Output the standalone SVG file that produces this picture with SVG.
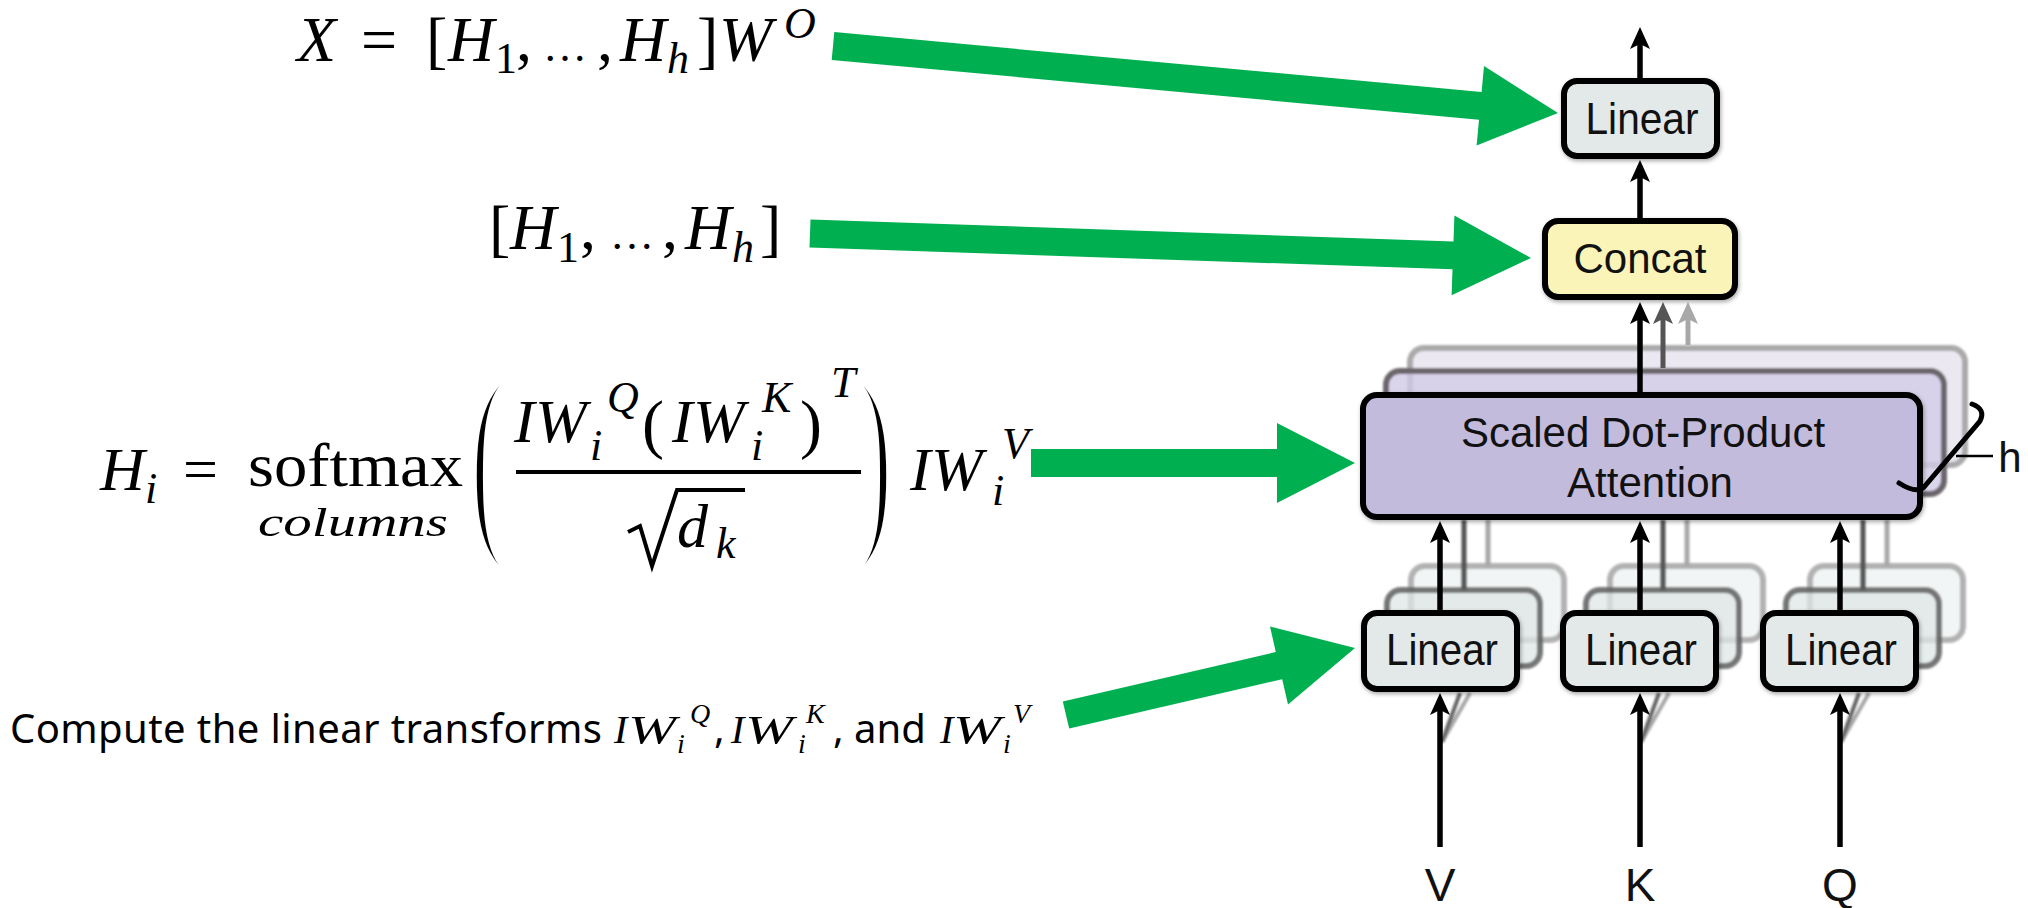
<svg xmlns="http://www.w3.org/2000/svg" width="2028" height="908" viewBox="0 0 2028 908">
<style>
.box{stroke:#000;stroke-width:6}
.lin{fill:#e3e9e9}
.concat{fill:#faf4b8}
.sdpa{fill:#c2bbdc}
.back1{fill:#dfe5e5;fill-opacity:0.75;stroke:#5f5f5f;stroke-opacity:0.85;stroke-width:6}
.back2{fill:#eef1f1;fill-opacity:0.75;stroke:#a6a6a6;stroke-opacity:0.85;stroke-width:6}
.sback1{fill:#d2cbe6;fill-opacity:0.8;stroke:#6a666b;stroke-width:6}
.sback2{fill:#e9e5f1;fill-opacity:0.9;stroke:#aaaaaa;stroke-width:6}
.lbl{font-family:"Liberation Sans",Arial,sans-serif;fill:#111;text-anchor:middle}
.m{font-family:"Liberation Serif","Times New Roman",serif;fill:#000}
.i{font-style:italic}
.cal{font-family:"Noto Sans","Open Sans",sans-serif;fill:#000}
.green{fill:#00b050}
.ln{stroke:#000;stroke-width:5.5;fill:none}
.ln1{stroke:#555;stroke-width:5;fill:none}
.ln2{stroke:#a8a8a8;stroke-width:5;fill:none}
.paren{stroke:#fff;stroke-width:8}
</style>
<defs>
<marker id="ah" viewBox="-24 -11 26 22" refX="-10" refY="0" markerWidth="26" markerHeight="22" markerUnits="userSpaceOnUse" orient="auto"><path d="M0,0 L-22,-10 L-17,0 L-22,10 Z" fill="#000"/></marker>
<marker id="ah1" viewBox="-24 -11 26 22" refX="-10" refY="0" markerWidth="26" markerHeight="22" markerUnits="userSpaceOnUse" orient="auto"><path d="M0,0 L-22,-10 L-17,0 L-22,10 Z" fill="#555"/></marker>
<marker id="ah2" viewBox="-24 -11 26 22" refX="-10" refY="0" markerWidth="26" markerHeight="22" markerUnits="userSpaceOnUse" orient="auto"><path d="M0,0 L-22,-10 L-17,0 L-22,10 Z" fill="#a8a8a8"/></marker>
<filter id="sh" x="-10%" y="-10%" width="120%" height="130%"><feDropShadow dx="1" dy="2" stdDeviation="2" flood-color="#000" flood-opacity="0.35"/></filter>
<filter id="bl" x="-10%" y="-10%" width="120%" height="130%"><feGaussianBlur stdDeviation="1"/></filter>
</defs>

<!-- back panels -->
<g id="sdpa-back" filter="url(#bl)">
<rect class="sback2" x="1410" y="348" width="555" height="117" rx="14"/>
<rect class="sback1" x="1386" y="371" width="558" height="123" rx="14"/>
</g>
<g id="linear-back" filter="url(#bl)">
<rect class="back2" x="1411" y="566" width="153" height="74" rx="14"/>
<rect class="back1" x="1387" y="590" width="153" height="76" rx="14"/>
<rect class="back2" x="1610" y="566" width="153" height="74" rx="14"/>
<rect class="back1" x="1586" y="590" width="153" height="76" rx="14"/>
<rect class="back2" x="1810" y="566" width="153" height="74" rx="14"/>
<rect class="back1" x="1786" y="590" width="153" height="76" rx="14"/>
</g>

<g id="connectors">
<line class="ln" x1="1640" y1="78" x2="1640" y2="37" marker-end="url(#ah)"/>
<line class="ln" x1="1640" y1="218" x2="1640" y2="170" marker-end="url(#ah)"/>
<line class="ln2" x1="1688" y1="345" x2="1688" y2="312" marker-end="url(#ah2)"/>
<line class="ln1" x1="1663" y1="368" x2="1663" y2="312" marker-end="url(#ah1)"/>
<line class="ln" x1="1640" y1="392" x2="1640" y2="312" marker-end="url(#ah)"/>
<g filter="url(#bl)">
<line class="ln2" x1="1488" y1="566" x2="1488" y2="520"/>
<line class="ln1" x1="1464" y1="590" x2="1464" y2="520"/>
<line class="ln2" x1="1687" y1="566" x2="1687" y2="520"/>
<line class="ln1" x1="1663" y1="590" x2="1663" y2="520"/>
<line class="ln2" x1="1887" y1="566" x2="1887" y2="520"/>
<line class="ln1" x1="1863" y1="590" x2="1863" y2="520"/>
<line stroke="#a8a8a8" stroke-width="4" x1="1442" y1="742" x2="1470" y2="693"/>
<line stroke="#666" stroke-width="4" x1="1442" y1="742" x2="1460" y2="693"/>
<line stroke="#a8a8a8" stroke-width="4" x1="1641" y1="742" x2="1669" y2="693"/>
<line stroke="#666" stroke-width="4" x1="1641" y1="742" x2="1659" y2="693"/>
<line stroke="#a8a8a8" stroke-width="4" x1="1841" y1="742" x2="1869" y2="693"/>
<line stroke="#666" stroke-width="4" x1="1841" y1="742" x2="1859" y2="693"/>
</g>
<line class="ln" x1="1440" y1="610" x2="1440" y2="531" marker-end="url(#ah)"/>
<line class="ln" x1="1640" y1="610" x2="1640" y2="531" marker-end="url(#ah)"/>
<line class="ln" x1="1840" y1="610" x2="1840" y2="531" marker-end="url(#ah)"/>
<line class="ln" x1="1440" y1="847" x2="1440" y2="703" marker-end="url(#ah)"/>
<line class="ln" x1="1640" y1="847" x2="1640" y2="703" marker-end="url(#ah)"/>
<line class="ln" x1="1840" y1="847" x2="1840" y2="703" marker-end="url(#ah)"/>
</g>

<g id="linear-top">
<rect class="box lin" x="1564" y="81" width="153" height="75" rx="13" filter="url(#sh)"/>
<text class="lbl" x="1642" y="134" font-size="44" textLength="113" lengthAdjust="spacingAndGlyphs">Linear</text>
</g>
<g id="concat">
<rect class="box concat" x="1545" y="221" width="190" height="76" rx="13" filter="url(#sh)"/>
<text class="lbl" x="1640" y="273" font-size="42">Concat</text>
</g>
<g id="sdpa">
<rect class="box sdpa" x="1363" y="395" width="557" height="122" rx="14" filter="url(#sh)"/>
<text class="lbl" x="1643" y="447" font-size="42">Scaled Dot-Product</text>
<text class="lbl" x="1650" y="497" font-size="42">Attention</text>
</g>
<g id="linear-v">
<rect class="box lin" x="1364" y="613" width="153" height="76" rx="13" filter="url(#sh)"/>
<text class="lbl" x="1442" y="665" font-size="44" textLength="112" lengthAdjust="spacingAndGlyphs">Linear</text>
</g>
<g id="linear-k">
<rect class="box lin" x="1563" y="613" width="153" height="76" rx="13" filter="url(#sh)"/>
<text class="lbl" x="1641" y="665" font-size="44" textLength="112" lengthAdjust="spacingAndGlyphs">Linear</text>
</g>
<g id="linear-q">
<rect class="box lin" x="1763" y="613" width="153" height="76" rx="13" filter="url(#sh)"/>
<text class="lbl" x="1841" y="665" font-size="44" textLength="112" lengthAdjust="spacingAndGlyphs">Linear</text>
</g>

<g id="inputs">
<text class="lbl" x="1440" y="901" font-size="46">V</text>
<text class="lbl" x="1640" y="901" font-size="46">K</text>
<text class="lbl" x="1840" y="901" font-size="46">Q</text>
</g>

<g id="h-brace">
<path d="M1972,404 Q1986,409 1980,421 L1924,487 Q1916,494 1899,483" fill="none" stroke="#000" stroke-width="5" stroke-linecap="round"/>
<line x1="1956" y1="456" x2="1993" y2="456" stroke="#000" stroke-width="2.5"/>
<text class="lbl" x="2010" y="472" font-size="42">h</text>
</g>

<g id="green-arrows">
<polygon class="green" points="834.3,32.1 1481.6,91.9 1484,66 1558,113 1476.6,145.6 1479,119.7 831.7,59.9"/>
<polygon class="green" points="810.5,219.5 1453.5,241.4 1454.4,215.4 1531,258 1451.6,295.3 1452.5,269.3 809.5,247.5"/>
<polygon class="green" points="1031,449 1277,449 1277,423 1355,463 1277,503 1277,477 1031,477"/>
<polygon class="green" points="1062.8,701.4 1275.8,652 1270,626.6 1355,648 1288,704.6 1282.2,679.2 1069.2,728.6"/>
</g>

<g id="formula-x">
<text class="m" font-size="64">
<tspan class="i" x="297" y="61">X</tspan>
<tspan x="361" y="61">=</tspan>
<tspan x="426" y="61">[</tspan>
<tspan class="i" x="448" y="61">H</tspan>
<tspan x="495" y="73" font-size="44">1</tspan>
<tspan x="516" y="61">,</tspan>
<tspan x="543" y="61" font-size="44">…</tspan>
<tspan x="597" y="61">,</tspan>
<tspan class="i" x="620" y="61">H</tspan>
<tspan class="i" x="667" y="73" font-size="44">h</tspan>
<tspan x="697" y="61">]</tspan>
<tspan class="i" x="719" y="61">W</tspan>
<tspan class="i" x="784" y="38" font-size="44">O</tspan>
</text>
</g>

<g id="formula-concat">
<text class="m" font-size="64">
<tspan x="489" y="249">[</tspan>
<tspan class="i" x="510" y="249">H</tspan>
<tspan x="557" y="262" font-size="44">1</tspan>
<tspan x="580" y="249">,</tspan>
<tspan x="610" y="249" font-size="44">…</tspan>
<tspan x="662" y="249">,</tspan>
<tspan class="i" x="685" y="249">H</tspan>
<tspan class="i" x="732" y="262" font-size="44">h</tspan>
<tspan x="760" y="249">]</tspan>
</text>
</g>

<g id="formula-h">
<text class="m" font-size="62">
<tspan class="i" x="100" y="490">H</tspan>
<tspan class="i" x="145" y="503" font-size="44">i</tspan>
<tspan x="183" y="490">=</tspan>
</text>
<text class="m" x="248" y="486" font-size="62" textLength="215" lengthAdjust="spacingAndGlyphs">softmax</text>
<text class="m i" x="258" y="536" font-size="41" textLength="190" lengthAdjust="spacingAndGlyphs">columns</text>
<text class="m paren" font-size="216" transform="translate(470,528) scale(0.5,1)">(</text>
<text class="m paren" font-size="216" transform="translate(857,528) scale(0.5,1)">)</text>
<text class="m" font-size="62">
<tspan class="i" x="514" y="442">I</tspan>
<tspan class="i" x="535" y="442">W</tspan>
<tspan class="i" x="590" y="460" font-size="44">i</tspan>
<tspan class="i" x="607" y="412" font-size="44">Q</tspan>
<tspan x="642" y="446" font-size="66">(</tspan>
<tspan class="i" x="672" y="442">I</tspan>
<tspan class="i" x="693" y="442">W</tspan>
<tspan class="i" x="751" y="460" font-size="44">i</tspan>
<tspan class="i" x="762" y="412" font-size="44">K</tspan>
<tspan x="800" y="446" font-size="66">)</tspan>
<tspan class="i" x="831" y="397" font-size="44">T</tspan>
</text>
<line x1="516" y1="472" x2="861" y2="472" stroke="#000" stroke-width="4"/>
<polyline points="628,532 640,526 652,566 677,490 745,490" fill="none" stroke="#000" stroke-width="4"/>
<text class="m" font-size="62">
<tspan class="i" x="677" y="547">d</tspan>
<tspan class="i" x="716" y="558" font-size="44">k</tspan>
<tspan class="i" x="910" y="490">I</tspan>
<tspan class="i" x="931" y="490">W</tspan>
<tspan class="i" x="992" y="505" font-size="44">i</tspan>
<tspan class="i" x="1002" y="458" font-size="44">V</tspan>
</text>
</g>

<g id="caption">
<text class="cal" x="10" y="743" font-size="40" textLength="592" lengthAdjust="spacing">Compute the linear transforms</text>
<text class="m i" x="614" y="743" font-size="40">I</text>
<text class="m i" x="628" y="743" font-size="40" textLength="48" lengthAdjust="spacingAndGlyphs">W</text>
<text class="m i" x="677" y="753" font-size="28">i</text>
<text class="m i" x="690" y="723" font-size="28">Q</text>
<text class="cal" x="714" y="743" font-size="40">,</text>
<text class="m i" x="731" y="743" font-size="40">I</text>
<text class="m i" x="745" y="743" font-size="40" textLength="48" lengthAdjust="spacingAndGlyphs">W</text>
<text class="m i" x="798" y="753" font-size="28">i</text>
<text class="m i" x="806" y="723" font-size="28">K</text>
<text class="cal" x="833" y="743" font-size="40">, and</text>
<text class="m i" x="940" y="743" font-size="40">I</text>
<text class="m i" x="953" y="743" font-size="40" textLength="48" lengthAdjust="spacingAndGlyphs">W</text>
<text class="m i" x="1003" y="753" font-size="28">i</text>
<text class="m i" x="1013" y="723" font-size="28">V</text>
</g>
</svg>
